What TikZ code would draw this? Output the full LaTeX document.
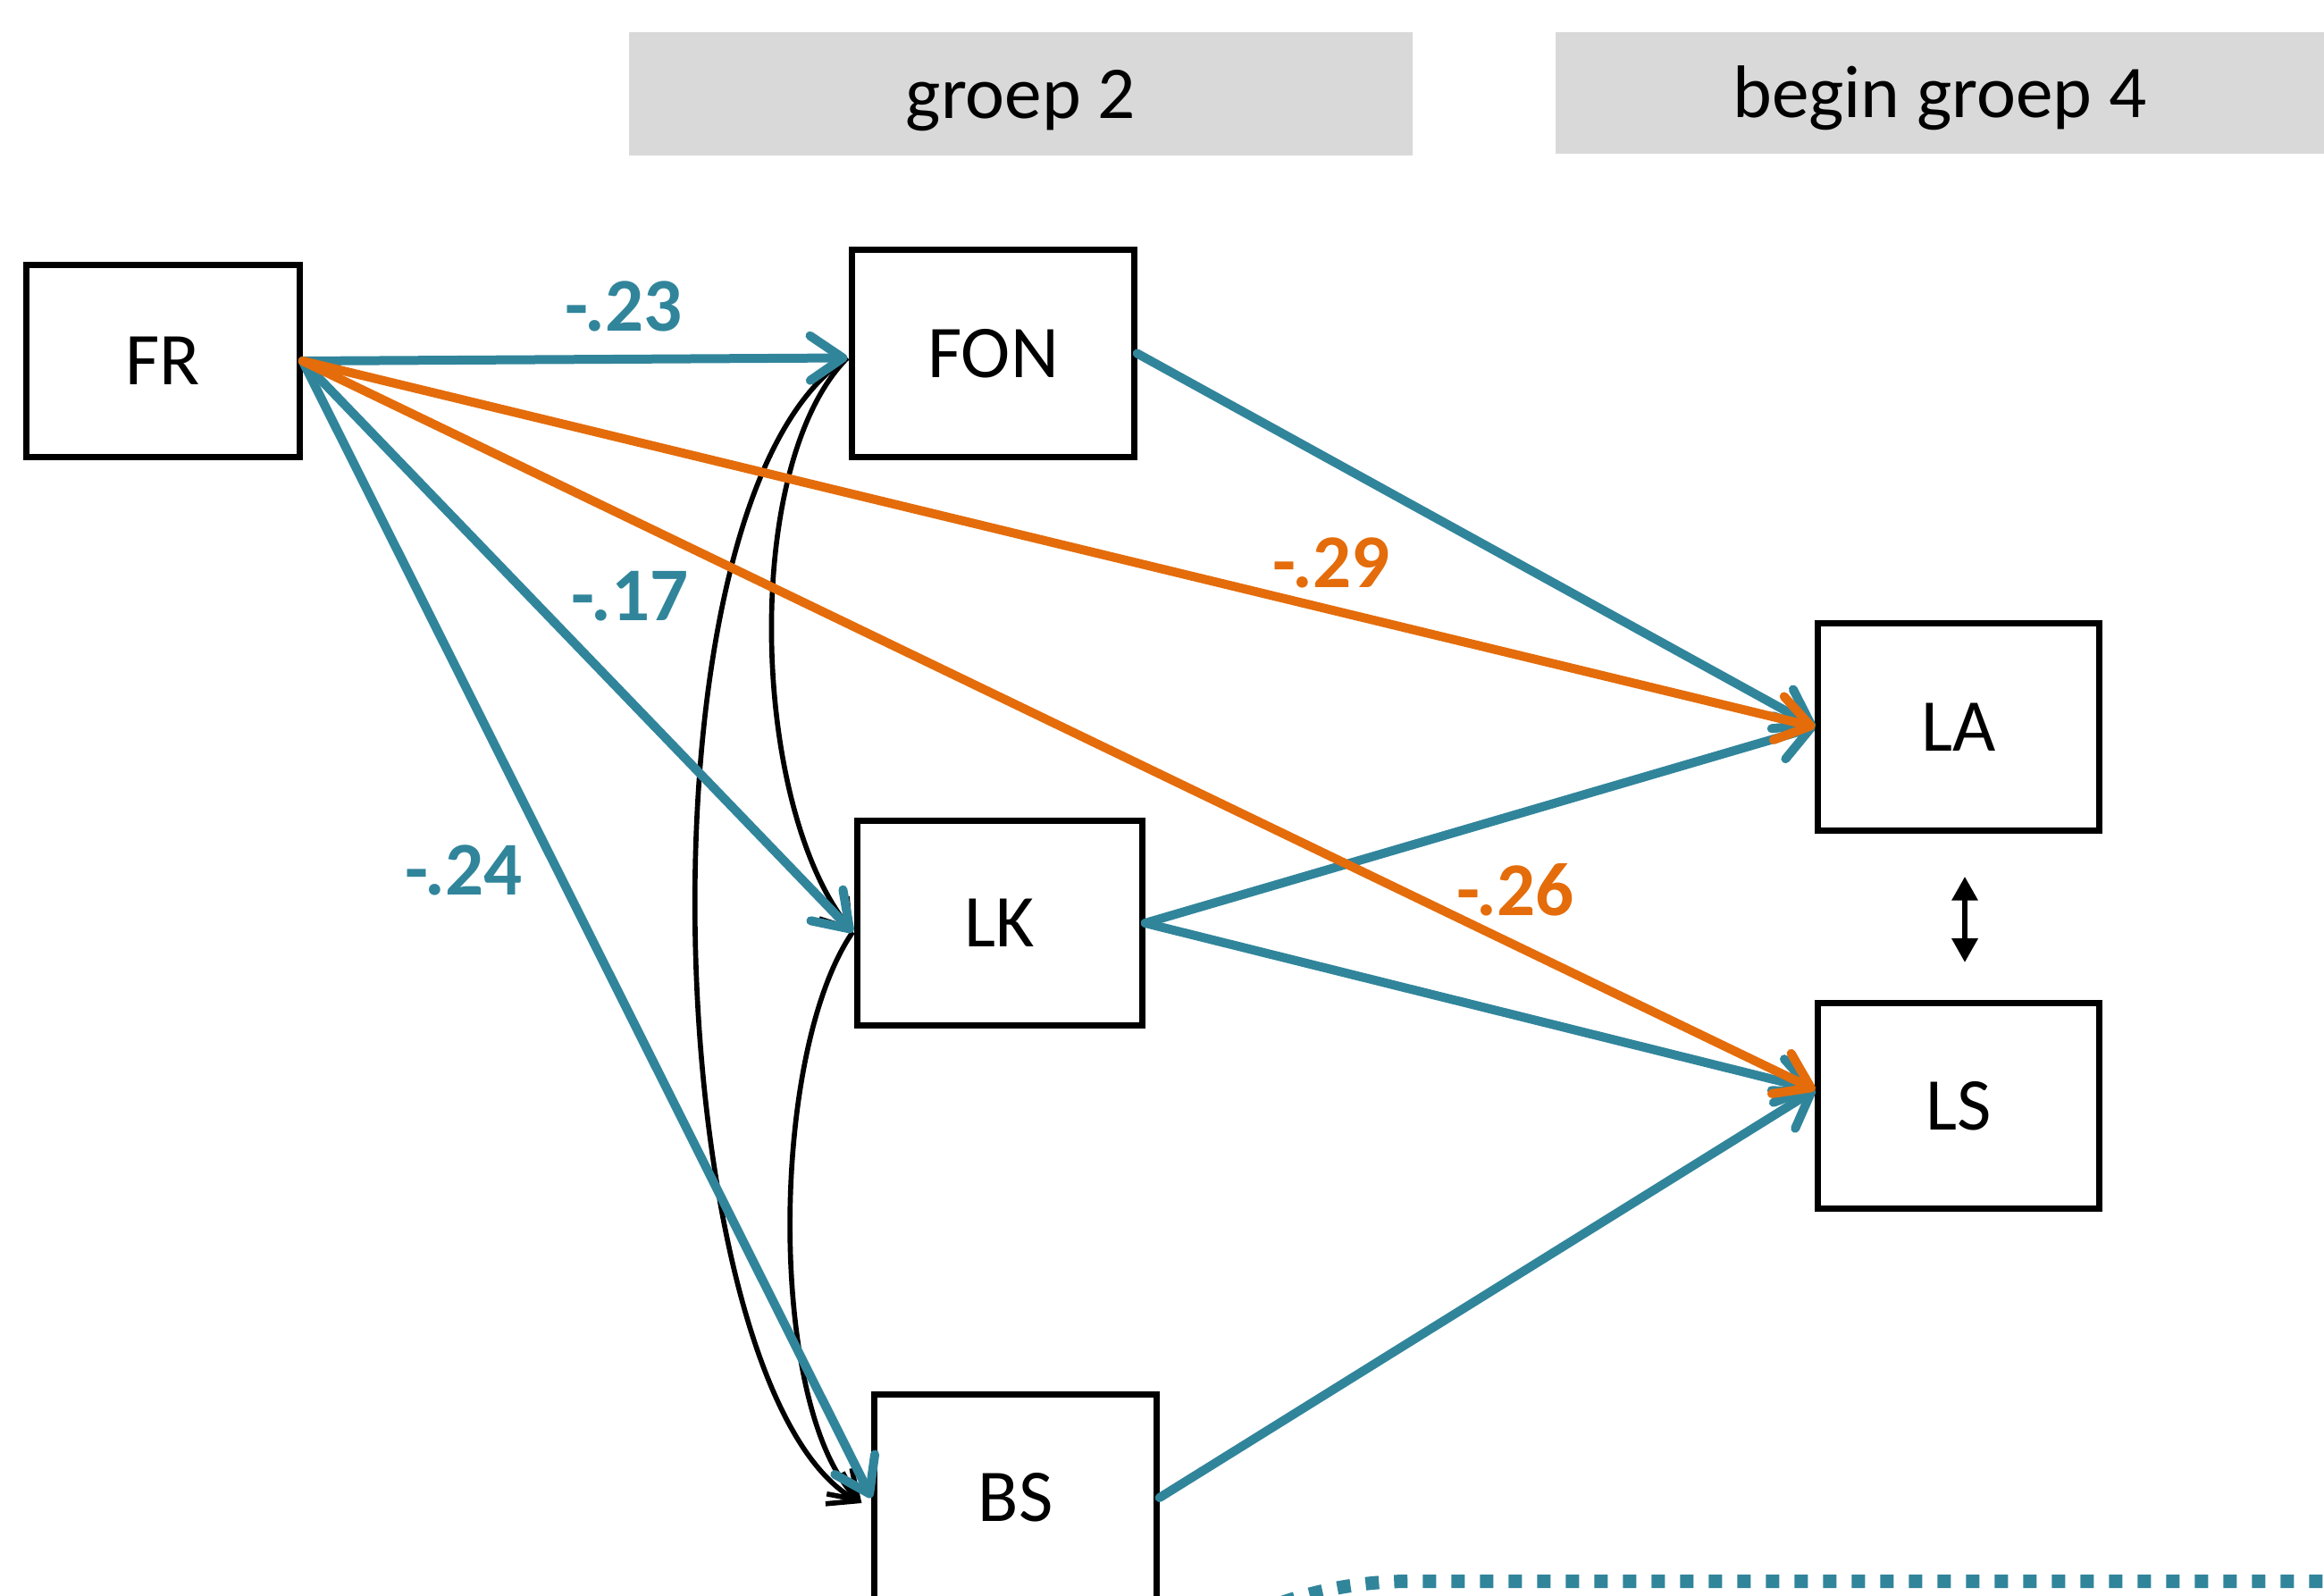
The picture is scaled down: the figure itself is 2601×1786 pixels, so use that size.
\documentclass[tikz,border=0pt]{standalone}
\usepackage{fontspec}
\setmainfont{Carlito}
\usetikzlibrary{arrows.meta,calc}
\definecolor{cblue}{RGB}{49,133,155}
\definecolor{corange}{RGB}{228,108,10}
\definecolor{cgray}{RGB}{217,217,217}
\begin{document}
\begin{tikzpicture}[x=0.3pt,y=-0.3pt,
  txt/.style={font=\fontsize{25}{30}\selectfont},
  box/.style={txt, draw=black, fill=white, line width=1.9pt, inner sep=0pt},
  graybox/.style={txt, fill=cgray, inner sep=0pt, text height=18pt, text depth=1.2pt},
  coef/.style={font=\fontsize{25.5}{30}\selectfont\bfseries, inner sep=0pt},
  bluearrow/.style={draw=cblue, line width=3pt, line cap=round,
    -{Straight Barb[length=11pt,width=15pt,round]}},
  orangearrow/.style={draw=corange, line width=3pt, line cap=round,
    -{Straight Barb[length=11pt,width=15pt,round]}},
  covarrow/.style={draw=black, line width=1.7pt,
    -{Straight Barb[length=9pt,width=12pt]}},
  dblarrow/.style={draw=black, line width=1.6pt,
    {Triangle[length=8pt,width=8.5pt]}-{Triangle[length=8pt,width=8.5pt]}},
  dotframe/.style={draw=cblue, line width=4.5pt, dash pattern=on 4.5pt off 5.1pt, rounded corners=132pt}
]
\useasboundingbox (0,0) rectangle (2601,1786);
\clip (0,0) rectangle (2601,1786);

% header bars
\node[graybox, minimum width=263.1pt, minimum height=41.4pt] (G2) at (1142.5,105) {groep 2};
\node[graybox, minimum width=258.3pt, minimum height=40.8pt] (G4) at (2171,104) {begin groep 4};

% boxes
\node[box, minimum width=91.8pt, minimum height=64.5pt] (FR) at (182.5,404) {FR};
\node[box, minimum width=94.8pt, minimum height=69.6pt] (FON) at (1111.5,395.5) {FON};
\node[box, minimum width=95.7pt, minimum height=68.7pt] (LK) at (1119,1033) {LK};
\node[box, minimum width=94.8pt, minimum height=69.3pt] (BS) at (1136.5,1676) {BS};
\node[box, minimum width=94.5pt, minimum height=69.6pt] (LA) at (2192,813.5) {LA};
\node[box, minimum width=94.5pt, minimum height=69pt] (LS) at (2192,1237.5) {LS};

% entry points
\coordinate (FONin) at ($(FON.west)+(-2,5)$);
\coordinate (LKin) at ($(LK.west)+(-2,10)$);
\coordinate (BSin) at ($(BS.west)+(-11,6)$);
\coordinate (LSin) at ($(LS.west)+(0,-18)$);

% covariance curves
\draw[covarrow] (FONin) .. controls (830,520) and (840,900) .. (LKin);
\draw[covarrow] (FONin) .. controls (700,560) and (740,1560) .. (BSin);
\draw[covarrow] (LKin) .. controls (860,1180) and (860,1580) .. (BSin);

% blue paths
\draw[bluearrow] (FR.east) -- (FONin);
\draw[bluearrow] (FR.east) -- (LKin);
\draw[bluearrow] (FR.east) -- (BS.west);
\draw[bluearrow] (FON.east) -- (LA.west);
\draw[bluearrow] (LK.east) -- (LA.west);
\draw[bluearrow] (LK.east) -- (LSin);
\draw[bluearrow] (BS.east) -- (LSin);

% orange paths
\draw[orangearrow] (FR.east) -- (LA.west);
\draw[orangearrow] (FR.east) -- (LSin);

% LA <-> LS
\draw[dblarrow, shorten <=14.5pt, shorten >=12.75pt] ($(LA.south)+(7,0)$) -- ($(LS.north)+(7,0)$);

% coefficients
\node[coef, text=cblue] (c23) at (698,343) {-.23};
\node[coef, text=cblue] (c17) at (705,667) {-.17};
\node[coef, text=cblue] (c24) at (519,974) {-.24};
\node[coef, text=corange] (c29) at (1490,630) {-.29};
\node[coef, text=corange] (c26) at (1696,996) {-.26};

% dotted frame at bottom right
\draw[dotframe] (1138,2400) -- (1138,1769.5) -- (2750,1769.5);
\end{tikzpicture}
\end{document}
